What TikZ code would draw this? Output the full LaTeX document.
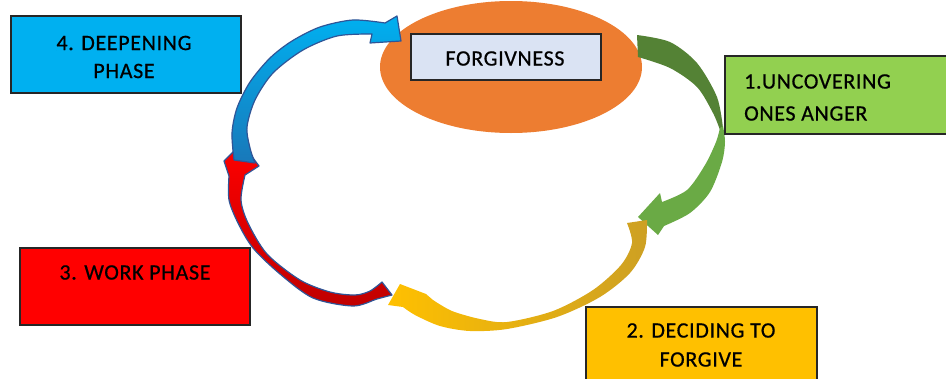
\documentclass[tikz,border=0pt]{standalone}
\usepackage{fontspec}
\setmainfont{Carlito}[LetterSpace=3,FakeBold=0.6]
\usetikzlibrary{shapes.geometric}
\definecolor{bluebox}{HTML}{00B0F0}
\definecolor{orangeell}{HTML}{ED7D31}
\definecolor{paleblue}{HTML}{DAE3F3}
\definecolor{greenbox}{HTML}{92D050}
\definecolor{yellowbox}{HTML}{FFC000}
\definecolor{redbox}{HTML}{FF0000}
\definecolor{greendark}{HTML}{548235}
\definecolor{greenlight}{HTML}{6AAA45}
\definecolor{yeldark}{RGB}{205,160,35}
\definecolor{yellight}{RGB}{255,192,0}
\definecolor{reddark}{HTML}{C00000}
\definecolor{arrowedge}{RGB}{47,85,151}
\definecolor{bluetop}{RGB}{0,176,240}
\definecolor{bluebot}{RGB}{25,120,185}
\begin{document}
\begin{tikzpicture}[x=1pt,y=-1pt,
  box/.style={draw=black!85, line width=1.5pt, inner sep=0pt},
  lbl/.style={font=\fontsize{22}{28}\selectfont, text=black, inner sep=0pt},
  arrowline/.style={draw=arrowedge, line width=1.2pt, line join=round}]
\useasboundingbox (0,0) rectangle (946,378);
% centre
\node[ellipse, fill=orangeell, minimum width=262pt, minimum height=132pt, inner sep=0pt] (ell) at (511,67) {};
\node[box, fill=paleblue, minimum width=190pt, minimum height=46pt, anchor=north west] (forgbox) at (410,33) {};
\node[lbl] (forg) at (505,58.5) {FORGIVNESS};
% green arrow (1 -> 2)
\fill[greendark] (637,35) -- plot[smooth] coordinates {(637,35) (670,42) (697,63) (717,97) (723,128)}
  -- plot[smooth] coordinates {(720,130) (713,113) (697,87) (670,68) (638,57)} -- cycle;
\fill[greenlight] (723,126) -- plot[smooth] coordinates {(723,126) (725,142) (722,162) (710,192) (690,213) (664,226)}
  -- (658,235) -- (638,217) -- (660,193)
  -- plot[smooth] coordinates {(662,202) (687,190) (705,165) (716,142) (720,128)} -- cycle;
% yellow arrow (2 -> 3)
\shade[left color=yellight, middle color=yellight, right color=yeldark]
  (647,220) -- plot[smooth] coordinates {(647,220) (645,247) (630,273) (600,297) (557,317) (507,329) (470,331) (440,326) (415,315) (403,307)}
  -- (388,305) -- (400,284) -- (426,294)
  -- plot[smooth] coordinates {(433,300) (452,311) (480,319) (507,322) (553,311) (593,290) (621,265) (632,243) (627,223)} -- cycle;
% red arrow (3 -> 4)
\shadedraw[top color=redbox, bottom color=reddark, arrowline]
  (392,295) -- plot[smooth] coordinates {(392,295) (377,299) (353,306) (313,298) (280,274) (253,248) (238,223) (229,200) (229,176)}
  -- (224,161) -- (242,143) -- (259,166)
  -- plot[smooth] coordinates {(245,175) (241,200) (248,223) (267,254) (300,280) (330,292) (355,295) (370,291) (382,282)} -- cycle;
% blue arrow (4 -> forgiveness)
\shadedraw[top color=bluetop, bottom color=bluebot, arrowline]
  (255,163) -- (234,160) -- plot[smooth] coordinates {(234,160) (232,133) (237,108) (250,82) (270,58) (292,41) (320,27) (353,20) (385,23)}
  -- (397,16) -- (401,41) -- (370,43)
  -- plot[smooth] coordinates {(372,34) (337,36) (303,50) (273,73) (255,100) (247,127) (250,148) (255,163)} -- cycle;
% boxes
\node[box, fill=bluebox, minimum width=230pt, minimum height=77pt, anchor=north west] (deepbox) at (10,15) {};
\node[lbl, align=center] (deep) at (124,57) {4. DEEPENING\\PHASE};
\node[box, fill=greenbox, minimum width=230pt, minimum height=78pt, anchor=north west] (uncbox) at (724,55) {};
\node[lbl, align=left, anchor=west, font=\fontsize{22}{32}\selectfont] (unc) at (744,97.5) {1.UNCOVERING\\ONES ANGER};
\node[box, fill=yellowbox, minimum width=231pt, minimum height=90pt, anchor=north west] (decbox) at (585,306) {};
\node[lbl, align=center, font=\fontsize{22}{29}\selectfont] (dec) at (701,345) {2. DECIDING TO\\FORGIVE};
\node[box, fill=redbox, minimum width=230pt, minimum height=77pt, anchor=north west] (workbox) at (19,247) {};
\node[lbl] (work) at (135,272.5) {3. WORK PHASE};
\end{tikzpicture}
\end{document}
